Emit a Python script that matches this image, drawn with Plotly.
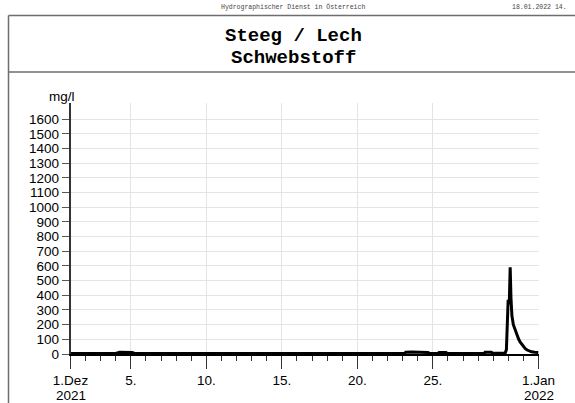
import plotly.graph_objects as go

# Schwebstoff-Konzentration Steeg / Lech, Dezember 2021 (mg/l)
times = [
    "2021-12-01 00:00", "2021-12-02 00:00", "2021-12-03 00:00", "2021-12-04 00:00",
    "2021-12-04 06:00", "2021-12-04 18:00", "2021-12-05 02:00", "2021-12-05 06:00",
    "2021-12-08 00:00", "2021-12-12 00:00", "2021-12-16 00:00", "2021-12-20 00:00",
    "2021-12-23 03:00", "2021-12-23 05:00", "2021-12-23 14:00", "2021-12-24 02:00",
    "2021-12-24 16:00", "2021-12-24 19:00", "2021-12-25 08:00", "2021-12-25 10:00",
    "2021-12-25 21:00", "2021-12-25 23:00", "2021-12-27 00:00", "2021-12-28 10:00",
    "2021-12-28 11:00", "2021-12-28 21:00", "2021-12-28 23:00", "2021-12-29 12:00",
    "2021-12-29 19:00", "2021-12-29 21:00", "2021-12-29 22:30", "2021-12-29 23:45",
    "2021-12-30 01:30", "2021-12-30 03:00", "2021-12-30 04:15", "2021-12-30 05:45",
    "2021-12-30 08:00", "2021-12-30 11:00", "2021-12-30 14:00", "2021-12-30 16:30",
    "2021-12-30 19:00", "2021-12-30 21:30", "2021-12-31 00:00", "2021-12-31 03:00",
    "2021-12-31 06:00", "2021-12-31 09:00", "2021-12-31 13:00", "2021-12-31 18:00",
    "2022-01-01 00:00",
]
values = [
    3, 3, 4, 4,
    12, 13, 11, 4,
    3, 3, 3, 3,
    4, 12, 13, 12,
    11, 4, 4, 11,
    11, 4, 4, 4,
    12, 12, 5, 5,
    6, 30, 200, 370,
    340, 590, 380, 260,
    200, 160, 125, 100,
    80, 64, 50, 36,
    27, 20, 15, 12,
    10,
]

x_tickvals = ["2021-12-01", "2021-12-05", "2021-12-10", "2021-12-15",
              "2021-12-20", "2021-12-25", "2022-01-01"]
x_ticktext = ["1.Dez", "5.", "10.", "15.", "20.", "25.", "1.Jan"]
# year labels written under the first and last date tick
year_dates = ["2021-12-01", "2022-01-01"]
year_text = ["2021", "2022"]
y_tickvals = list(range(0, 1700, 100))

W, H = 575, 403


def px(x):
    return x / W


def py(y):
    return 1 - y / H


fig = go.Figure()
fig.add_trace(go.Scatter(
    x=times, y=values, mode="lines",
    line=dict(color="black", width=3),
    hoverinfo="skip", showlegend=False,
))

axis_font = dict(family="Liberation Sans, Arial, sans-serif", size=13.5, color="black")

fig.update_layout(
    width=W, height=H,
    margin=dict(l=0, r=0, t=0, b=0),
    paper_bgcolor="white", plot_bgcolor="white",
    xaxis=dict(
        domain=[px(70.5), px(538.5)],
        range=["2021-12-01", "2022-01-01"],
        type="date", automargin=False,
        tickmode="array", tickvals=x_tickvals, ticktext=x_ticktext,
        ticks="outside", ticklen=13, tickwidth=1.2, tickcolor="#333",
        tickfont=axis_font,
        showgrid=True, gridcolor="#e4e4e4", gridwidth=1,
        showline=True, linecolor="black", linewidth=1.5,
        zeroline=False,
        minor=dict(tickmode="linear", tick0="2021-12-01", dtick=86400000,
                   ticks="outside", ticklen=5, tickwidth=1, tickcolor="#333",
                   showgrid=False),
    ),
    yaxis=dict(
        domain=[py(354), py(103)],
        range=[0, 1710], automargin=False,
        tickmode="array", tickvals=y_tickvals,
        ticks="outside", ticklen=7, tickwidth=1.2, tickcolor="#555",
        tickfont=axis_font,
        showgrid=True, gridcolor="#e4e4e4", gridwidth=1,
        showline=True, linecolor="#333", linewidth=1.5,
        zeroline=False,
    ),
)

for d, t in zip(year_dates, year_text):
    fig.add_annotation(x=d, y=py(395.5), xref="x", yref="paper",
                       xanchor="center", yanchor="middle",
                       text=t, showarrow=False, font=axis_font)

frame = dict(color="#6e6e6e", width=1.5)
fig.add_shape(type="line", xref="paper", yref="paper",
              x0=px(8.5), x1=1, y0=py(15.5), y1=py(15.5), line=frame)
fig.add_shape(type="line", xref="paper", yref="paper",
              x0=px(8.5), x1=1, y0=py(72), y1=py(72), line=frame)
fig.add_shape(type="line", xref="paper", yref="paper",
              x0=px(8.5), x1=px(8.5), y0=py(15.5), y1=0, line=frame)

mono = "Liberation Mono, Courier New, monospace"
fig.add_annotation(x=px(293), y=py(7), xref="paper", yref="paper", yanchor="middle",
                   text="Hydrographischer Dienst in Österreich", showarrow=False,
                   font=dict(family=mono, size=6.5, color="#444"))
fig.add_annotation(x=px(510), y=py(7), xref="paper", yref="paper",
                   xanchor="left", yanchor="middle",
                   text="18.01.2022 14.", showarrow=False,
                   font=dict(family=mono, size=6.5, color="#444"))
fig.add_annotation(x=px(293), y=py(36), xref="paper", yref="paper", yanchor="middle",
                   text="<b>Steeg / Lech</b>", showarrow=False,
                   font=dict(family=mono, size=19, color="black"))
fig.add_annotation(x=px(293), y=py(58), xref="paper", yref="paper", yanchor="middle",
                   text="<b>Schwebstoff</b>", showarrow=False,
                   font=dict(family=mono, size=19, color="black"))
fig.add_annotation(x=px(47), y=py(97), xref="paper", yref="paper", yanchor="middle",
                   text="mg/l", showarrow=False, font=axis_font)

fig.write_html("out.html")
